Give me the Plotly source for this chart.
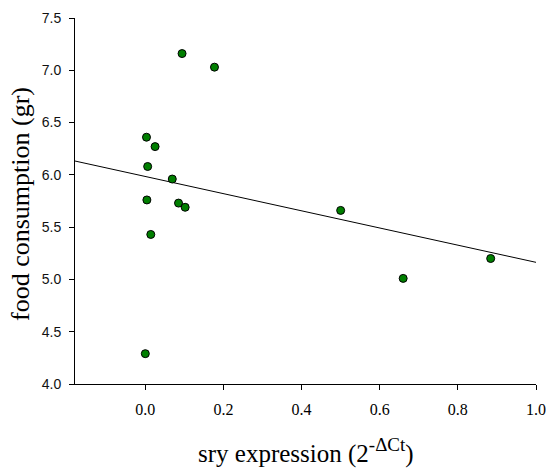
import numpy as np
import plotly.graph_objects as go

sry_expression = [0.094, 0.177, 0.003, 0.025, 0.006, 0.069, 0.004, 0.085, 0.102, 0.014, 0.000, 0.500, 0.660, 0.884]
food_consumption = [7.16, 7.03, 6.36, 6.27, 6.08, 5.96, 5.76, 5.73, 5.69, 5.43, 4.29, 5.66, 5.01, 5.20]
x_ticks = [0.0, 0.2, 0.4, 0.6, 0.8, 1.0]
y_ticks = [4.0, 4.5, 5.0, 5.5, 6.0, 6.5, 7.0, 7.5]
x_range = [-0.18, 1.0]
y_range = [4.0, 7.5]

SERIF = "Liberation Serif, Times New Roman, Times, serif"
SANS = "Liberation Sans, Arial, Helvetica, sans-serif"

slope, intercept = np.polyfit(sry_expression, food_consumption, 1)
fit_x = np.array(x_range)
fit_y = slope * fit_x + intercept

fig = go.Figure()
fig.add_trace(go.Scatter(x=fit_x, y=fit_y, mode="lines",
                         line=dict(color="black", width=1), showlegend=False))
fig.add_trace(go.Scatter(x=sry_expression, y=food_consumption, mode="markers",
                         marker=dict(color="#007F00", size=8, line=dict(color="black", width=1)),
                         showlegend=False))

fig.update_layout(
    width=546, height=475,
    margin=dict(l=75, r=10, t=18, b=91),
    plot_bgcolor="white", paper_bgcolor="white",
    xaxis=dict(range=x_range, tickvals=x_ticks, ticktext=[f"{v:.1f}" for v in x_ticks],
               showgrid=False, zeroline=False, showline=True, linecolor="black", linewidth=1,
               ticks="outside", ticklen=5, tickcolor="black", automargin=False,
               ticklabelstandoff=6,
               tickfont=dict(family=SERIF, size=16, color="black")),
    yaxis=dict(range=y_range, tickvals=y_ticks, ticktext=[f"{v:.1f}" for v in y_ticks],
               showgrid=False, zeroline=False, showline=True, linecolor="black", linewidth=1,
               ticks="outside", ticklen=5, tickcolor="black", automargin=False,
               ticklabelstandoff=5,
               tickfont=dict(family=SANS, size=14, color="#111111")),
    annotations=[
        dict(text="sry expression (2<sup><span style='font-size:19px'>-ΔCt</span></sup>)",
             xref="paper", yref="paper",
             x=0.5, y=-0.184, xanchor="center", yanchor="middle", showarrow=False,
             font=dict(family=SERIF, size=25, color="black")),
        dict(text="food consumption (gr)", xref="paper", yref="paper",
             x=-0.117, y=0.492, xanchor="center", yanchor="middle", showarrow=False,
             textangle=-90,
             font=dict(family=SERIF, size=26, color="black")),
    ],
)
fig.write_html("out.html", config={"displayModeBar": False},
               post_script="document.body.style.margin='0';document.body.style.padding='0';")
